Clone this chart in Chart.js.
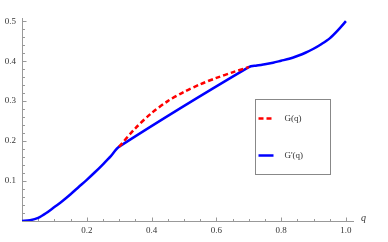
<!DOCTYPE html>
<html>
<head>
<meta charset="utf-8">
<script src="https://cdn.jsdelivr.net/npm/chart.js@4"></script>
<style>
  body { margin: 0; background: #fff; }
</style>
</head>
<body>
<canvas id="chart" width="388" height="242"></canvas>
<script>
"use strict";

// values
const qPrime = [0, 0.025, 0.05, 0.075, 0.1, 0.125, 0.15, 0.175, 0.2, 0.225, 0.25, 0.275, 0.3,
  0.7, 0.725, 0.75, 0.775, 0.8, 0.825, 0.85, 0.875, 0.9, 0.925, 0.95, 0.975, 1.0];
const gPrimeValues = [0, 0.002, 0.008, 0.02, 0.035, 0.05, 0.067, 0.085, 0.103, 0.122, 0.142, 0.163, 0.186,
  0.385, 0.389, 0.392, 0.396, 0.401, 0.406, 0.413, 0.421, 0.431, 0.443, 0.457, 0.477, 0.5];
const qG = [0.3, 0.35, 0.4, 0.45, 0.5, 0.55, 0.6, 0.65, 0.7];
const gValues = [0.186, 0.232, 0.27, 0.3, 0.323, 0.342, 0.358, 0.372, 0.385];
const xTicks = [0.2, 0.4, 0.6, 0.8, 1.0];
const yTicks = [0.1, 0.2, 0.3, 0.4, 0.5];
const labels = ["G(q)", "G'(q)"];

const serif = "'Liberation Serif', 'DejaVu Serif', serif";
const tickFont = { family: serif, size: 9 };

const toPoints = (xs, ys) => xs.map((x, i) => ({ x: x, y: ys[i] }));

//Mathematica style axes through the origin
const axesPlugin = {
  id: "mathAxes",
  beforeDatasetsDraw(chart) {
    const { ctx, chartArea, scales } = chart;
    const x = scales.x, y = scales.y;
    const x0 = Math.round(x.getPixelForValue(0)) + 0.5;
    const y0 = Math.round(y.getPixelForValue(0)) + 0.5;
    ctx.save();
    ctx.strokeStyle = "#999";
    ctx.lineWidth = 1;
    ctx.beginPath();
    ctx.moveTo(chartArea.left, y0);
    ctx.lineTo(chartArea.right, y0);
    ctx.moveTo(x0, chartArea.top);
    ctx.lineTo(x0, chartArea.bottom);
    for (let i = 1; i <= 20; i++) {
      const px = Math.round(x.getPixelForValue(i * 0.05)) + 0.5;
      const len = i % 4 === 0 ? 4 : 2.5;
      ctx.moveTo(px, y0);
      ctx.lineTo(px, y0 - len);
    }
    for (let i = 1; i <= 25; i++) {
      const py = Math.round(y.getPixelForValue(i * 0.02)) + 0.5;
      const len = i % 5 === 0 ? 4 : 2.5;
      ctx.moveTo(x0, py);
      ctx.lineTo(x0 + len, py);
    }
    ctx.stroke();

    ctx.fillStyle = "#333";
    ctx.font = "italic 10px " + serif;
    ctx.textBaseline = "middle";
    ctx.fillText("q", chartArea.right + 7, y0 - 3);
    ctx.restore();
  },
  afterDraw(chart) {
    const ctx = chart.ctx;
    const box = { left: 255.5, top: 99.5, width: 75, height: 75 };
    ctx.save();
    ctx.fillStyle = "#fff";
    ctx.fillRect(box.left, box.top, box.width, box.height);
    ctx.strokeStyle = "#888";
    ctx.lineWidth = 1;
    ctx.strokeRect(box.left, box.top, box.width, box.height);
    ctx.font = "9px " + serif;
    ctx.textBaseline = "middle";
    chart.data.datasets.forEach((ds, i) => {
      const yy = box.top + 19 + i * 37;
      ctx.strokeStyle = ds.borderColor;
      ctx.lineWidth = ds.borderWidth;
      ctx.setLineDash(ds.borderDash || []);
      ctx.beginPath();
      ctx.moveTo(box.left + 3, yy);
      ctx.lineTo(box.left + 18, yy);
      ctx.stroke();
      ctx.setLineDash([]);
      ctx.fillStyle = "#333";
      ctx.fillText(ds.label, box.left + 29, yy);
    });
    ctx.restore();
  },
};

new Chart(document.getElementById("chart"), {
  type: "scatter",
  data: {
    datasets: [
      {
        label: labels[0],
        data: toPoints(qG, gValues),
        showLine: true,
        borderColor: "#ff0000",
        borderWidth: 2.5,
        borderDash: [5, 3],
        pointRadius: 0,
        tension: 0.3,
      },
      {
        label: labels[1],
        data: toPoints(qPrime, gPrimeValues),
        showLine: true,
        borderColor: "#0000ff",
        borderWidth: 2.5,
        pointRadius: 0,
        tension: 0.3,
      },
    ],
  },
  options: {
    responsive: false,
    animation: false,
    layout: { padding: { left: 0, top: 18, right: 34, bottom: 0 } },
    plugins: { legend: { display: false }, tooltip: { enabled: false } },
    scales: {
      x: {
        type: "linear",
        min: 0,
        max: 1.025,
        grid: { display: false, drawTicks: false },
        border: { display: false },
        ticks: { font: tickFont, color: "#333", padding: 4, maxRotation: 0, autoSkip: false,
          callback: (v) => v.toFixed(1) },
        afterBuildTicks: (s) => { s.ticks = xTicks.map((v) => ({ value: v })); },
        afterFit: (s) => { s.height = 21; },
      },
      y: {
        min: 0,
        max: 0.508,
        grid: { display: false, drawTicks: false },
        border: { display: false },
        ticks: { font: tickFont, color: "#333", padding: 6, autoSkip: false,
          callback: (v) => v.toFixed(1) },
        afterBuildTicks: (s) => { s.ticks = yTicks.map((v) => ({ value: v })); },
        afterFit: (s) => { s.width = 22; },
      },
    },
  },
  plugins: [axesPlugin],
});
</script>
</body>
</html>
